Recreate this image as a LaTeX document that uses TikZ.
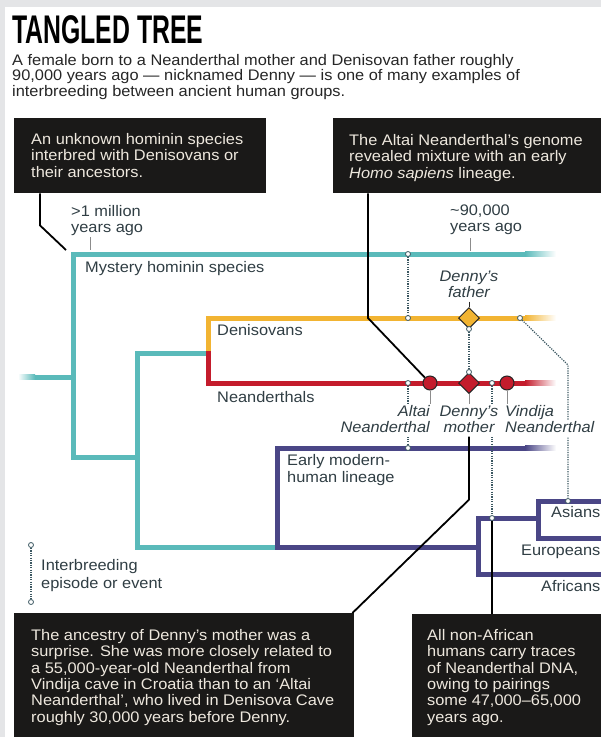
\documentclass[tikz,border=0pt]{standalone}
\usepackage{fontspec}
\setmainfont[FakeStretch=1.07]{Liberation Sans}
\newfontfamily\titlefont[FakeStretch=0.62]{Liberation Sans}
\usetikzlibrary{shapes.geometric}
\definecolor{pagegray}{RGB}{228,229,231}
\definecolor{mysteryteal}{RGB}{90,186,186}
\definecolor{denisovanyellow}{RGB}{242,180,50}
\definecolor{neanderred}{RGB}{196,28,44}
\definecolor{modernpurple}{RGB}{74,70,134}
\definecolor{boxblack}{RGB}{26,25,24}
\definecolor{boxink}{RGB}{238,232,222}
\definecolor{labelink}{RGB}{48,62,68}
\definecolor{dotink}{RGB}{60,88,98}
\newcommand\txtsize{\fontsize{15.3}{16.5}\selectfont}

\begin{document}
\begin{tikzpicture}
[x=1pt, y=-1pt,
 branch/.style={line width=5pt, line cap=rect, line join=miter},
 blackbox/.style={rectangle, fill=boxblack, inner sep=0pt, anchor=north west},
 boxtext/.style={text=boxink, font=\txtsize, align=left, anchor=base west, inner sep=0pt},
 branchname/.style={anchor=base west, align=left, inner sep=0pt, text=labelink, font=\txtsize},
 fossilname/.style={fill=white, inner xsep=1pt, inner ysep=0.5pt, text height=11.5pt, text depth=4pt, text=labelink, font=\txtsize\itshape},
 matepoint/.style={circle, draw=dotink, fill=white, line width=0.8pt, minimum size=5pt, inner sep=0pt},
 mating/.style={dotink, line width=1.2pt, dash pattern=on 1.2pt off 1.2pt},
 fossil/.style={circle, draw=black!85, fill=neanderred, line width=1pt, minimum size=14pt, inner sep=0pt},
 hybrid/.style={diamond, draw=black!85, line width=1pt, minimum size=21pt, inner sep=0pt},
 tickline/.style={black!45, line width=0.8pt},
 leader/.style={black, line width=1.8pt}]
\useasboundingbox (0,0) rectangle (601,737);
\clip (0,0) rectangle (601,737);
\fill[pagegray] (0,0) rectangle (601,737);
\fill[white] (5,7) rectangle (601,737);

\node[anchor=base west, inner sep=0pt] (title) at (12,43) {\titlefont\bfseries\fontsize{40}{40}\selectfont TANGLED TREE};
\node[anchor=base west, align=left, inner sep=0pt, text=black!85, font=\fontsize{15.3}{14}\selectfont] (intro) at (12,96)
 {A female born to a Neanderthal mother and Denisovan father roughly\\90,000 years ago — nicknamed Denny — is one of many examples of\\interbreeding between ancient human groups.};

\draw[branch, mysteryteal] (525,254) -- (73,254) -- (73,457) -- (137,457);
\draw[branch, mysteryteal] (35,377) -- (73,377);
\shade[left color=white, right color=mysteryteal] (18,374.5) rectangle (35,379.5);
\shade[left color=mysteryteal, right color=white] (525,251.5) rectangle (556,256.5);
\draw[branch, mysteryteal] (208,353) -- (137,353) -- (137,547) -- (277,547);
\draw[branch, denisovanyellow] (208,353) -- (208,318) -- (525,318);
\shade[left color=denisovanyellow, right color=white] (525,315.5) rectangle (556,320.5);
\draw[branch, neanderred] (208,353) -- (208,383) -- (525,383);
\shade[left color=neanderred, right color=white] (525,380.5) rectangle (556,385.5);
\draw[branch, modernpurple] (525,448) -- (277,448) -- (277,547) -- (478,547);
\shade[left color=modernpurple, right color=white] (525,445.5) rectangle (556,450.5);
\draw[branch, modernpurple] (538,518) -- (478,518) -- (478,574) -- (610,574);
\draw[branch, modernpurple] (610,501) -- (538,501) -- (538,538) -- (610,538);

\node[branchname, font=\fontsize{15.3}{16}\selectfont] (olddate) at (71,232) {>1 million\\years ago};
\node[branchname, font=\fontsize{15.3}{16}\selectfont] (newdate) at (450,231) {\textasciitilde90,000\\years ago};
\draw[tickline] (90,237) -- (90,250);
\draw[tickline] (470,238) -- (470,251);
\node[branchname] (mystery) at (85,272) {Mystery hominin species};
\node[branchname] (denisovans) at (217,335) {Denisovans};
\node[branchname] (neanderthals) at (217,402) {Neanderthals};
\node[branchname, font=\fontsize{15.3}{17}\selectfont] (earlymodern) at (287,482) {Early modern-\\human lineage};
\node[branchname, anchor=base east] (asians) at (600.5,517) {Asians};
\node[branchname, anchor=base east] (europeans) at (600.5,555) {Europeans};
\node[branchname, anchor=base east] (africans) at (600.5,591) {Africans};

\node[hybrid, fill=denisovanyellow] (father) at (469,318) {};
\node[hybrid, fill=neanderred] (mother) at (469,383) {};
\node[fossil] (altai) at (430,383) {};
\node[fossil] (vindija) at (507,383) {};

\node[matepoint] (m1top) at (408,254) {};
\node[matepoint] (m1bot) at (408,318) {};
\node[matepoint] (m2top) at (408,383) {};
\node[matepoint] (m2bot) at (408,448) {};
\node[matepoint] (m3top) at (father.south) {};
\node[matepoint] (m3bot) at (mother.north) {};
\node[matepoint] (m4top) at (492,383) {};
\node[matepoint] (m4bot) at (492,518) {};
\node[matepoint] (m5top) at (520,318) {};
\coordinate (m5bend) at (568,365);
\node[matepoint] (m5bot) at (568,501) {};
\draw[mating] (m1top) -- (m1bot);
\draw[mating] (m2top) -- (m2bot);
\draw[mating] (m3top) -- (m3bot);
\draw[mating] (m4top) -- (m4bot);
\draw[mating] (m5top) -- (m5bend) -- (m5bot);

\node[fossilname, anchor=base] (fatherA) at (469,281) {Denny’s};
\node[fossilname, anchor=base] (fatherB) at (469,297) {father};
\node[fossilname, anchor=base east] (altaiA) at (431,416) {Altai};
\node[fossilname, anchor=base east] (altaiB) at (431,432) {Neanderthal};
\node[fossilname, anchor=base] (motherA) at (469,416) {Denny’s};
\node[fossilname, anchor=base] (motherB) at (469,432) {mother};
\node[fossilname, anchor=base west] (vindijaA) at (504,416) {Vindija};
\node[fossilname, anchor=base west] (vindijaB) at (504,432) {Neanderthal};
\draw[black!85, line width=1pt] (fatherB) -- (father);
\draw[tickline] (altai.south) -- (altai.south |- altaiA.north);
\draw[tickline] (mother.south) -- (motherA.north);
\draw[tickline] (vindija.south) -- (vindija.south |- vindijaA.north);

\node[matepoint] (legendtop) at (31,545) {};
\node[matepoint] (legendbot) at (31,602) {};
\draw[mating] (legendtop) -- (legendbot);
\node[branchname, font=\fontsize{15.3}{18}\selectfont] (legend) at (41,588) {Interbreeding\\episode or event};

\node[blackbox, minimum width=252pt, minimum height=75pt] (unknownbox) at (14,118) {};
\node[boxtext] (unknowntext) at (31,177) {An unknown hominin species\\interbred with Denisovans or\\their ancestors.};
\node[blackbox, minimum width=280pt, minimum height=75pt] (altaibox) at (333,118) {};
\node[boxtext] (altaitext) at (349,178) {The Altai Neanderthal’s genome\\revealed mixture with an early\\\textit{Homo sapiens} lineage.};
\node[blackbox, minimum width=340pt, minimum height=130pt] (motherbox) at (14,613) {};
\node[boxtext, font=\fontsize{15.3}{16.3}\selectfont] (mothertext) at (31,722) {The ancestry of Denny’s mother was a\\surprise. She was more closely related to\\a 55,000-year-old Neanderthal from\\Vindija cave in Croatia than to an ‘Altai\\Neanderthal’, who lived in Denisova Cave\\roughly 30,000 years before Denny.};
\node[blackbox, minimum width=200pt, minimum height=130pt] (africabox) at (412,614) {};
\node[boxtext, font=\fontsize{15.3}{16.3}\selectfont] (africatext) at (427,722) {All non-African\\humans carry traces\\of Neanderthal DNA,\\owing to pairings\\some 47,000–65,000\\years ago.};

\coordinate (mysterycorner) at (66,250);
\draw[leader] ([xshift=26pt]unknownbox.south west) -- ++(0,32) -- (mysterycorner);
\draw[leader] ([xshift=35pt]altaibox.south west) -- (368,318) -- (altai);
\draw[leader] (motherB.south) -- ++(0,63) -- ([xshift=-2pt]motherbox.north east);
\draw[leader] (m4bot) -- (m4bot |- africabox.north);
\end{tikzpicture}
\end{document}
